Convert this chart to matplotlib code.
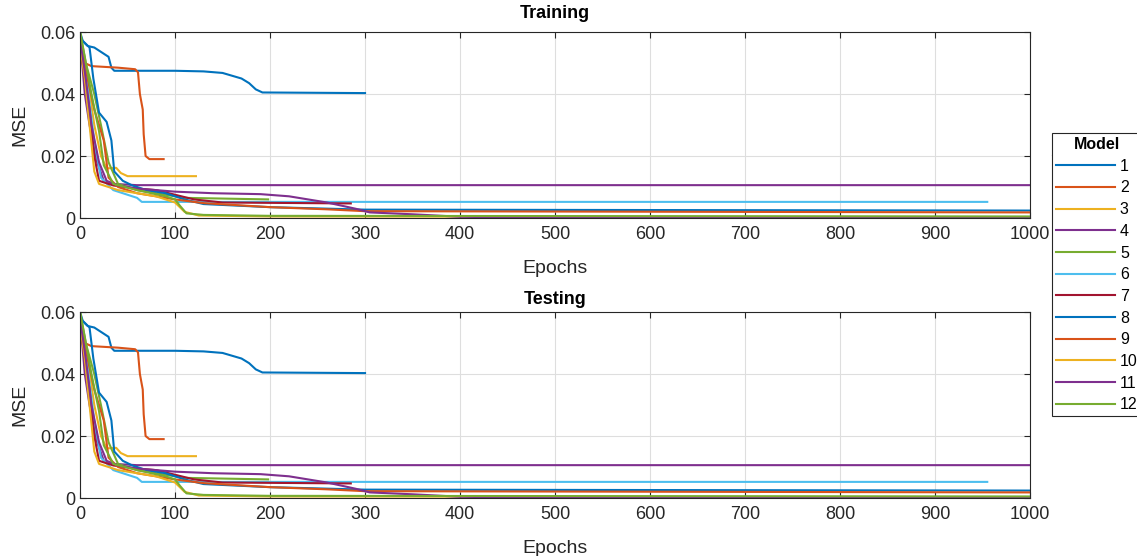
import numpy as np
import matplotlib.pyplot as plt
from matplotlib.lines import Line2D

plt.rcParams["font.family"] = ["Liberation Sans", "DejaVu Sans"]

# MATLAB default colour order, repeated for models 8-12
colors = ["#0072BD", "#D95319", "#EDB120", "#7E2F8E", "#77AC30", "#4DBEEE", "#A2142F"]

# (epoch, mse) points, one list per model
m1_ep = [0, 3, 8, 15, 25, 30, 33, 36, 100, 130, 150, 170, 178, 185, 192, 300]
m1_mse = [0.060, 0.057, 0.0555, 0.055, 0.053, 0.052, 0.0485, 0.0475, 0.0475, 0.0473,
          0.0468, 0.045, 0.0435, 0.0415, 0.0405, 0.0403]
m2_ep = [0, 5, 12, 40, 58, 61, 63, 66, 67, 69, 73, 88]
m2_mse = [0.053, 0.050, 0.049, 0.0485, 0.048, 0.047, 0.040, 0.035, 0.027, 0.020, 0.019, 0.019]
m3_ep = [0, 8, 15, 22, 28, 38, 43, 50, 122]
m3_mse = [0.058, 0.045, 0.030, 0.020, 0.016, 0.0162, 0.0145, 0.0135, 0.0135]
m4_ep = [0, 5, 10, 18, 25, 35, 60, 1000]
m4_mse = [0.058, 0.040, 0.030, 0.018, 0.012, 0.011, 0.0106, 0.0106]
m5_ep = [0, 6, 15, 22, 30, 40, 60, 90, 110, 198]
m5_mse = [0.060, 0.050, 0.040, 0.030, 0.018, 0.011, 0.009, 0.0075, 0.0065, 0.006]
m6_ep = [0, 8, 15, 22, 35, 50, 60, 65, 955]
m6_mse = [0.057, 0.042, 0.025, 0.013, 0.009, 0.0075, 0.0065, 0.0052, 0.0052]
m7_ep = [0, 5, 10, 15, 20, 35, 60, 80, 100, 120, 150, 285]
m7_mse = [0.056, 0.045, 0.035, 0.020, 0.012, 0.0105, 0.0095, 0.009, 0.0075, 0.006, 0.005, 0.0047]
m8_ep = [0, 10, 14, 20, 28, 33, 36, 45, 55, 70, 90, 110, 130, 200, 300, 1000]
m8_mse = [0.058, 0.055, 0.045, 0.034, 0.031, 0.025, 0.015, 0.012, 0.0105, 0.009, 0.008,
          0.006, 0.0045, 0.0035, 0.0027, 0.0024]
m9_ep = [0, 8, 15, 25, 30, 40, 60, 100, 130, 200, 260, 300, 1000]
m9_mse = [0.057, 0.045, 0.035, 0.025, 0.013, 0.010, 0.008, 0.006, 0.0048, 0.0035, 0.0028,
          0.0022, 0.0018]
m10_ep = [0, 5, 10, 15, 20, 40, 80, 100, 110, 125, 200, 1000]
m10_mse = [0.056, 0.045, 0.030, 0.015, 0.011, 0.009, 0.007, 0.005, 0.002, 0.0008, 0.0005, 0.0003]
m11_ep = [0, 6, 12, 20, 28, 40, 60, 100, 140, 190, 220, 240, 260, 290, 305, 350, 400, 450, 1000]
m11_mse = [0.058, 0.045, 0.030, 0.018, 0.012, 0.0105, 0.0095, 0.0085, 0.008, 0.0077, 0.007,
           0.006, 0.005, 0.003, 0.0018, 0.0012, 0.0004, 0.0002, 0.0001]
m12_ep = [0, 5, 12, 20, 25, 35, 60, 90, 100, 105, 112, 130, 200, 1000]
m12_mse = [0.060, 0.052, 0.040, 0.028, 0.017, 0.011, 0.009, 0.007, 0.006, 0.004, 0.0015,
           0.001, 0.0007, 0.0005]

models = [(m1_ep, m1_mse), (m2_ep, m2_mse), (m3_ep, m3_mse), (m4_ep, m4_mse),
          (m5_ep, m5_mse), (m6_ep, m6_mse), (m7_ep, m7_mse), (m8_ep, m8_mse),
          (m9_ep, m9_mse), (m10_ep, m10_mse), (m11_ep, m11_mse), (m12_ep, m12_mse)]
labels = [str(i + 1) for i in range(len(models))]

fig = plt.figure(figsize=(11.37, 5.56), dpi=100)
ax1 = fig.add_axes([0.0704, 0.6079, 0.8355, 0.3345])
ax2 = fig.add_axes([0.0704, 0.1043, 0.8355, 0.3345])

for ax, title, tpad in [(ax1, "Training", 10), (ax2, "Testing", 6)]:
    for i, (ep, mse) in enumerate(models):
        ax.plot(ep, mse, color=colors[i % 7], lw=1.5, label=labels[i])
    ax.set_xlim(0, 1000)
    ax.set_ylim(0, 0.06)
    ax.set_xticks(np.arange(0, 1001, 100))
    ax.set_yticks([0, 0.02, 0.04, 0.06])
    ax.set_yticklabels(["0", "0.02", "0.04", "0.06"])
    ax.grid(True, color="#dedede", lw=0.8)
    ax.tick_params(direction="in", top=True, right=True, labelsize=13,
                   colors="#262626", length=4)
    ax.tick_params(axis="x", pad=6)
    for s in ax.spines.values():
        s.set_color("#262626")
        s.set_linewidth(0.8)
    ax.set_xlabel("Epochs", fontsize=14, color="#262626", labelpad=12)
    ax.set_ylabel("MSE", fontsize=14, color="#262626", labelpad=8)
    ax.set_title(title, fontsize=13, fontweight="bold", pad=tpad)

handles = [Line2D([], [], color=colors[i % 7], lw=1.5) for i in range(len(models))]
leg = fig.legend(handles, labels, title="Model", loc="upper left",
                 bbox_to_anchor=(1052 / 1137, 1 - 133 / 556), fontsize=11.5,
                 title_fontproperties={"weight": "bold", "size": 11.5},
                 handlelength=3.7, handletextpad=0.3, labelspacing=0.42,
                 fancybox=False, edgecolor="#262626", borderpad=0.25,
                 borderaxespad=0, framealpha=1)
leg.get_frame().set_linewidth(0.8)

# separator line under the legend title
fig.canvas.draw()
tb = leg.get_title().get_window_extent()
fb = leg.get_frame().get_window_extent()
ysep = (tb.y0 - 3) / fig.bbox.height
fig.add_artist(Line2D([fb.x0 / fig.bbox.width, fb.x1 / fig.bbox.width], [ysep, ysep],
                      transform=fig.transFigure, color="#262626", lw=0.8))

fig.savefig("out.png", dpi=100)
